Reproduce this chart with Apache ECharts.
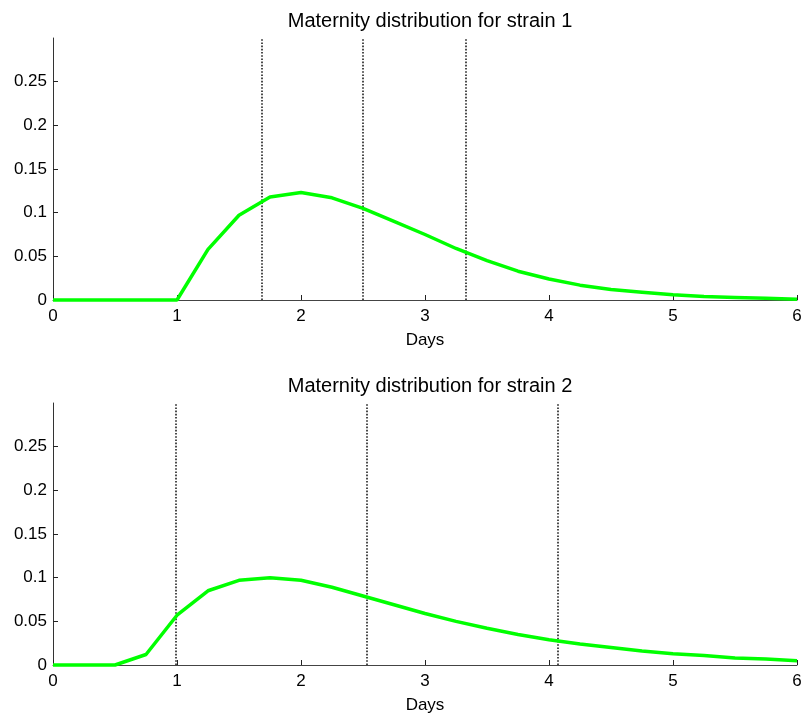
<!DOCTYPE html>
<html>
<head>
<meta charset="utf-8">
<script src="https://cdn.jsdelivr.net/npm/echarts@6/dist/echarts.min.js"></script>
<style>
  html, body { margin: 0; padding: 0; background: #fff; }
  #chart { width: 805px; height: 719px; }
</style>
</head>
<body>
<div id="chart"></div>
<script>
// Sampling grid in days (0.25-day steps)
const days = [0, 0.25, 0.5, 0.75, 1, 1.25, 1.5, 1.75, 2, 2.25, 2.5, 2.75, 3,
              3.25, 3.5, 3.75, 4, 4.25, 4.5, 4.75, 5, 5.25, 5.5, 5.75, 6];

// Maternity distribution values per strain
const strain1 = [0, 0, 0, 0, 0, 0.058, 0.097, 0.118, 0.123, 0.117, 0.105, 0.090, 0.075,
                 0.059, 0.045, 0.033, 0.024, 0.017, 0.012, 0.009, 0.006, 0.004, 0.003, 0.002, 0.001];
const strain2 = [0, 0, 0, 0.012, 0.057, 0.085, 0.097, 0.100, 0.097, 0.089, 0.079, 0.069, 0.059,
                 0.050, 0.042, 0.035, 0.029, 0.024, 0.020, 0.016, 0.013, 0.011, 0.008, 0.007, 0.005];

// Dotted vertical markers (days)
const marks1 = [1.68, 2.5, 3.33];
const marks2 = [0.99, 2.53, 4.07];

const titles = ['Maternity distribution for strain 1', 'Maternity distribution for strain 2'];
const xTicks = [0, 1, 2, 3, 4, 5, 6];
const yTicks = [0, 0.05, 0.1, 0.15, 0.2, 0.25];

const FONT = '"Liberation Sans", Arial, sans-serif';
const gridTops = [38, 403];
const plotH = 262;

function xAxisFor(i) {
  return {
    gridIndex: i, type: 'value', min: 0, max: 6, interval: 1,
    name: 'Days', nameLocation: 'middle', nameGap: 32,
    nameTextStyle: { color: '#000', fontSize: 17, fontFamily: FONT },
    axisLine: { show: true, lineStyle: { color: '#444', width: 1 } },
    axisTick: { show: true, inside: true, length: 5, lineStyle: { color: '#222' } },
    axisLabel: { color: '#000', fontSize: 17, fontFamily: FONT, margin: 8,
                 customValues: xTicks },
    splitLine: { show: false }
  };
}
function yAxisFor(i) {
  return {
    gridIndex: i, type: 'value', min: 0, max: 0.3,
    axisLine: { show: true, lineStyle: { color: '#333', width: 1 } },
    axisTick: { show: true, inside: true, length: 5, lineStyle: { color: '#222' },
                customValues: yTicks },
    axisLabel: { color: '#000', fontSize: 17, fontFamily: FONT, margin: 6,
                 customValues: yTicks, formatter: v => String(+v.toFixed(2)) },
    splitLine: { show: false }
  };
}
function curve(i, values, marks) {
  return {
    type: 'line', xAxisIndex: i, yAxisIndex: i,
    data: days.map((d, k) => [d, values[k]]),
    showSymbol: false, clip: false, silent: true,
    lineStyle: { color: '#00ff00', width: 3.5 },
    itemStyle: { color: '#00ff00' },
    markLine: {
      silent: true, symbol: 'none', animation: false,
      label: { show: false },
      lineStyle: { color: '#111', width: 1.5, type: [1.6, 1.6] },
      data: marks.map(m => ({ xAxis: m }))
    },
    z: 5
  };
}

const chart = echarts.init(document.getElementById('chart'));
chart.setOption({
  animation: false,
  backgroundColor: '#fff',
  title: titles.map((t, i) => ({
    text: t, left: 425, textAlign: 'center', top: gridTops[i] - 32,
    textStyle: { color: '#000', fontSize: 20, fontWeight: 'normal', fontFamily: FONT }
  })),
  grid: gridTops.map(t => ({ left: 53, right: 8, top: t, height: plotH })),
  xAxis: [xAxisFor(0), xAxisFor(1)],
  yAxis: [yAxisFor(0), yAxisFor(1)],
  series: [curve(0, strain1, marks1), curve(1, strain2, marks2)]
});
</script>
</body>
</html>
